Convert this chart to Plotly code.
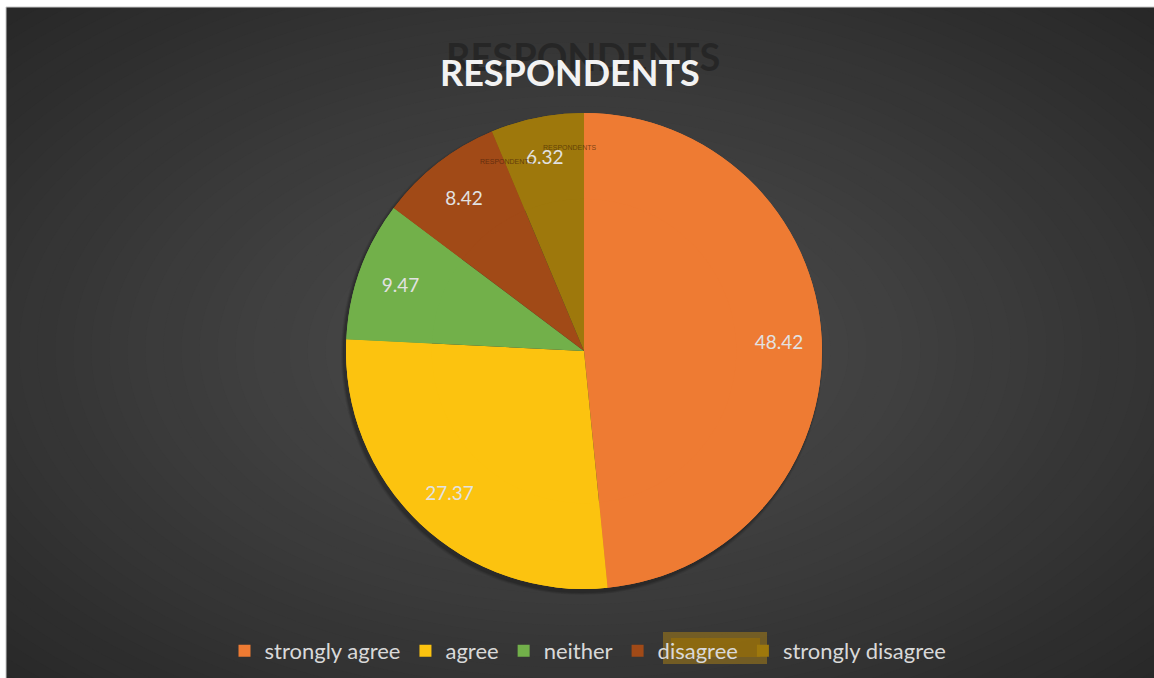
import plotly.graph_objects as go

# Survey responses (percent of respondents)
categories = ["strongly agree", "agree", "neither", "disagree", "strongly disagree"]
values = [48.42, 27.37, 9.47, 8.42, 6.32]
slice_colors = ["#EE7B33", "#FCC30F", "#72B04A", "#A14A17", "#9E780C"]

W, H = 1154, 678
FONT = "Lato, 'Open Sans', sans-serif"


def px(x):
    return x / W


def py(y):
    return 1 - y / H


shapes = []

# Radial background: nested ellipses from the dark rim towards the lighter centre
cx, cy = 578, 350
outer, inner = (40, 40, 40), (77, 77, 77)
N = 48
for i in range(N):
    d = 1.5 * (1 - i / N)
    t = min(d / 1.41, 1.0) ** 1.1
    c = [round(inner[k] + (outer[k] - inner[k]) * t) for k in range(3)]
    rx, ry = d * W / 2, d * H / 2
    shapes.append(dict(type="circle", xref="paper", yref="paper", layer="below",
                       x0=px(cx - rx), x1=px(cx + rx), y0=py(cy + ry), y1=py(cy - ry),
                       fillcolor=f"rgb({c[0]},{c[1]},{c[2]})", line=dict(width=0)))

# Soft drop shadow under the pie, falling to the lower left
pcx, pcy, R = 584, 351, 238
for k, a in enumerate([0.08, 0.10, 0.14]):
    grow = 3 - k
    shapes.append(dict(type="circle", xref="paper", yref="paper", layer="below",
                       x0=px(pcx - R - grow - 2), x1=px(pcx + R + grow - 2),
                       y0=py(pcy + R + grow + 3), y1=py(pcy - R - grow + 3),
                       fillcolor=f"rgba(0,0,0,{a})", line=dict(width=0)))

# Light frame along the top and left edges
shapes.append(dict(type="rect", xref="paper", yref="paper", layer="below",
                   x0=0, x1=1, y0=py(7), y1=1, fillcolor="#ffffff", line=dict(width=0)))
shapes.append(dict(type="rect", xref="paper", yref="paper", layer="below",
                   x0=0, x1=px(6), y0=0, y1=1, fillcolor="#ffffff", line=dict(width=0)))
shapes.append(dict(type="line", xref="paper", yref="paper", layer="below",
                   x0=px(6), x1=1, y0=py(7), y1=py(7), line=dict(color="#c8c8c8", width=1)))
shapes.append(dict(type="line", xref="paper", yref="paper", layer="below",
                   x0=px(6), x1=px(6), y0=0, y1=py(7), line=dict(color="#c8c8c8", width=1)))

# Selection highlight around the "disagree" legend entry
shapes.append(dict(type="rect", xref="paper", yref="paper", layer="above",
                   x0=px(663), x1=px(767), y0=py(664), y1=py(632),
                   fillcolor="rgba(176,132,20,0.5)", line=dict(width=0)))
shapes.append(dict(type="rect", xref="paper", yref="paper", layer="above",
                   x0=px(671), x1=px(760), y0=py(657), y1=py(638),
                   fillcolor="rgba(160,115,0,0.55)", line=dict(width=0)))

annotations = [
    # dark ghost of the title sitting just above it
    dict(text="<b>RESPONDENTS</b>", x=px(583), y=py(56), xref="paper", yref="paper",
         showarrow=False, xanchor="center", yanchor="middle",
         font=dict(family=FONT, size=38, color="rgba(28,28,28,0.6)")),
    dict(text="<b>RESPONDENTS</b>", x=px(570), y=py(72), xref="paper", yref="paper",
         showarrow=False, xanchor="center", yanchor="middle",
         font=dict(family=FONT, size=36, color="#f2f2f2")),
    dict(text="RESPONDENTS", x=px(507), y=py(156), xref="paper", yref="paper",
         showarrow=False, font=dict(family="'Liberation Sans Narrow', sans-serif", size=7,
                                    color="rgba(70,30,10,0.7)")),
    dict(text="RESPONDENTS", x=px(570), y=py(142), xref="paper", yref="paper",
         showarrow=False, font=dict(family="'Liberation Sans Narrow', sans-serif", size=7,
                                    color="rgba(70,40,5,0.7)")),
]

no_line = dict(width=0)
domain = dict(x=[px(pcx - R), px(pcx + R)], y=[py(pcy + R), py(pcy - R)])

fig = go.Figure()
# full pie underneath (fills the centre)
fig.add_trace(go.Pie(
    labels=categories, values=values, sort=False, direction="clockwise", rotation=0,
    marker=dict(colors=slice_colors, line=no_line),
    textinfo="none", hoverinfo="skip", showlegend=False, domain=domain,
))
# same slices as an outer ring carrying the value labels near the rim
fig.add_trace(go.Pie(
    labels=categories, values=values, sort=False, direction="clockwise", rotation=0,
    hole=0.64,
    marker=dict(colors=slice_colors, line=no_line),
    texttemplate="%{value:.2f}",
    textposition="inside",
    insidetextorientation="horizontal",
    textfont=dict(family=FONT, size=19, color="#e2e2e2"),
    hoverinfo="label+value",
    domain=domain,
))

fig.update_layout(
    width=W, height=H,
    margin=dict(l=0, r=0, t=0, b=0),
    paper_bgcolor="#2c2c2c",
    plot_bgcolor="rgba(0,0,0,0)",
    shapes=shapes,
    annotations=annotations,
    showlegend=True,
    legend=dict(orientation="h", x=px(588), xanchor="center", y=py(651), yanchor="middle",
                font=dict(family=FONT, size=22, color="#d9d9d9"),
                bgcolor="rgba(0,0,0,0)", itemwidth=30, traceorder="normal"),
)

fig.write_html("out.html")
